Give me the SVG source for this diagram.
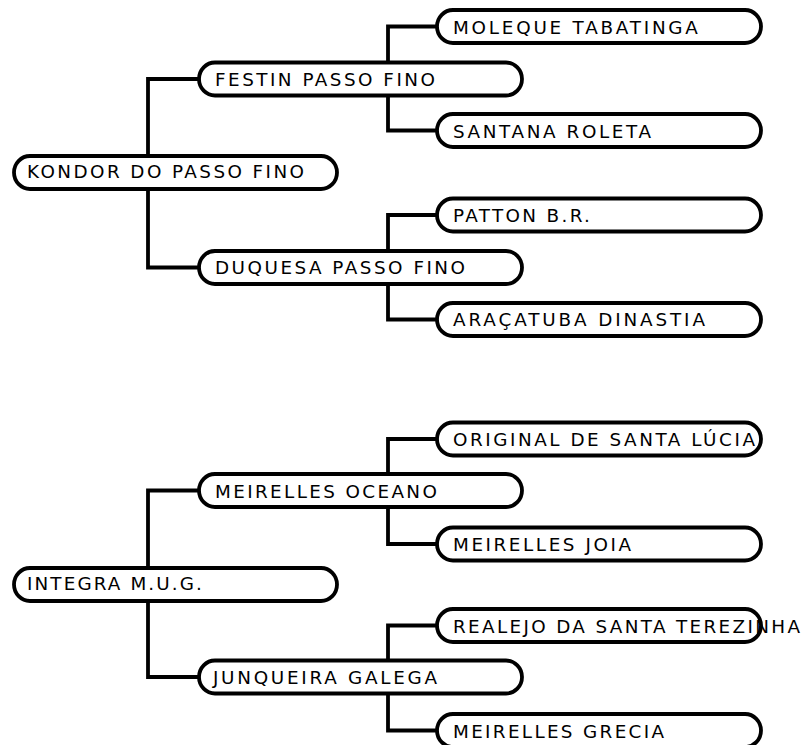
<svg xmlns="http://www.w3.org/2000/svg" width="802" height="745" viewBox="0 0 802 745">
<style>
.node rect{fill:#fff;stroke:#000;stroke-width:3.8}
.node text{font-family:"DejaVu Sans","Liberation Sans",sans-serif;font-size:17px;fill:#000}
#connectors path{fill:none;stroke:#000;stroke-width:3.8;stroke-linecap:square}
</style>
<rect width="802" height="745" fill="#fff"/>
<g id="connectors">
<path d="M148,172.5 V79 H199"/>
<path d="M148,172.5 V267.5 H199"/>
<path d="M388,79 V26.5 H437"/>
<path d="M388,79 V130.5 H437"/>
<path d="M388,267.5 V215 H437"/>
<path d="M388,267.5 V319.5 H437"/>
<path d="M148,584.5 V490.5 H199"/>
<path d="M148,584.5 V677 H199"/>
<path d="M388,490.5 V439 H437"/>
<path d="M388,490.5 V544 H437"/>
<path d="M388,677 V625.5 H437"/>
<path d="M388,677 V730.5 H437"/>
</g>
<g id="kondor" class="node"><rect x="14" y="156" width="323" height="33" rx="16" ry="16.5"/><text transform="translate(27 177.5) scale(1.08 1)" textLength="256.5">KONDOR DO PASSO FINO</text></g>
<g id="festin" class="node"><rect x="199" y="62.5" width="323" height="33" rx="16" ry="16.5"/><text transform="translate(215 86) scale(1.08 1)" textLength="203.7">FESTIN PASSO FINO</text></g>
<g id="moleque" class="node"><rect x="437" y="10" width="324" height="33" rx="16" ry="16.5"/><text transform="translate(453 33.5) scale(1.08 1)" textLength="226.8">MOLEQUE TABATINGA</text></g>
<g id="santana" class="node"><rect x="437" y="114" width="324" height="33" rx="16" ry="16.5"/><text transform="translate(453 137.5) scale(1.08 1)" textLength="183.3">SANTANA ROLETA</text></g>
<g id="duquesa" class="node"><rect x="199" y="251" width="323" height="33" rx="16" ry="16.5"/><text transform="translate(215 273.5) scale(1.08 1)" textLength="231.5">DUQUESA PASSO FINO</text></g>
<g id="patton" class="node"><rect x="437" y="198.5" width="324" height="33" rx="16" ry="16.5"/><text transform="translate(453 222) scale(1.08 1)" textLength="126.8">PATTON B.R.</text></g>
<g id="aracatuba" class="node"><rect x="437" y="303" width="324" height="33" rx="16" ry="16.5"/><text transform="translate(453 326) scale(1.08 1)" textLength="233.3">ARAÇATUBA DINASTIA</text></g>
<g id="integra" class="node"><rect x="14" y="568" width="323" height="33" rx="16" ry="16.5"/><text transform="translate(27 589.5) scale(1.08 1)" textLength="162">INTEGRA M.U.G.</text></g>
<g id="oceano" class="node"><rect x="199" y="474" width="323" height="33" rx="16" ry="16.5"/><text transform="translate(215 497.5) scale(1.08 1)" textLength="205.5">MEIRELLES OCEANO</text></g>
<g id="original" class="node"><rect x="437" y="422.5" width="324" height="33" rx="16" ry="16.5"/><text transform="translate(453 445.5) scale(1.08 1)" textLength="279.6">ORIGINAL DE SANTA LÚCIA</text></g>
<g id="joia" class="node"><rect x="437" y="527.5" width="324" height="33" rx="16" ry="16.5"/><text transform="translate(453 550.5) scale(1.08 1)" textLength="164.8">MEIRELLES JOIA</text></g>
<g id="junqueira" class="node"><rect x="199" y="660.5" width="323" height="33" rx="16" ry="16.5"/><text transform="translate(213 683.5) scale(1.08 1)" textLength="207.4">JUNQUEIRA GALEGA</text></g>
<g id="realejo" class="node"><rect x="437" y="609" width="324" height="33" rx="16" ry="16.5"/><text transform="translate(453 632.5) scale(1.08 1)" textLength="321.3">REALEJO DA SANTA TEREZINHA</text></g>
<g id="grecia" class="node"><rect x="437" y="714" width="324" height="33" rx="16" ry="16.5"/><text transform="translate(453 737.5) scale(1.08 1)" textLength="195.4">MEIRELLES GRECIA</text></g>
</svg>
